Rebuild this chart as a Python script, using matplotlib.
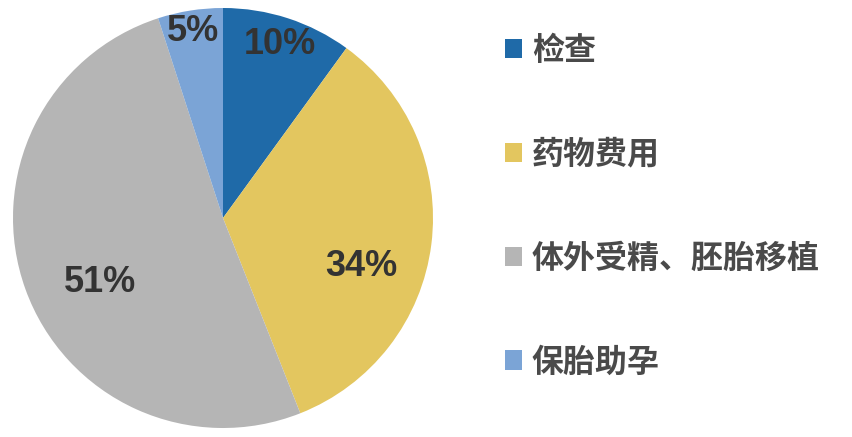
import numpy as np
import matplotlib
matplotlib.use("Agg")
import matplotlib.pyplot as plt
from matplotlib.patches import Patch

plt.rcParams['font.family'] = ['Noto Sans CJK SC', 'DejaVu Sans']

# cost share of an IVF cycle
labels = ['检查', '药物费用', '体外受精、胚胎移植', '保胎助孕']
shares = [10, 34, 51, 5]
colors = ['#1f6aa8', '#e3c65f', '#b5b5b5', '#7ba4d6']

# nudges for the percent labels (radius factor, angle offset in degrees)
lab_r = [0.87, 0.70, 0.66, 0.90]
lab_da = [0, -12, 8, 0]

fig = plt.figure(figsize=(8.53, 4.37), dpi=100)
ax = fig.add_axes([13 / 853, 9 / 437, 420 / 853, 420 / 437])

wedges, _ = ax.pie(shares, colors=colors, startangle=90, counterclock=False,
                   wedgeprops=dict(linewidth=0))
ax.set_xlim(-1, 1)
ax.set_ylim(-1, 1)
ax.set_aspect('equal')

for w, v, r, da in zip(wedges, shares, lab_r, lab_da):
    ang = np.deg2rad((w.theta1 + w.theta2) / 2 + da)
    ax.text(r * np.cos(ang), r * np.sin(ang), f'{v}%', ha='center', va='center',
            fontsize=26, color='#333333', family='Liberation Sans', fontweight='bold')

handles = [Patch(facecolor=c, edgecolor='none') for c in colors]
fig.legend(handles, labels, loc='upper left', bbox_to_anchor=(476 / 853, 1 - 6 / 437),
           frameon=False, handlelength=0.55, handleheight=0.55,
           handletextpad=0.3, labelspacing=2.25, labelcolor='#4a4a4a',
           prop=dict(size=23, weight='bold'))

fig.savefig('out.png', dpi=100, facecolor='white')
